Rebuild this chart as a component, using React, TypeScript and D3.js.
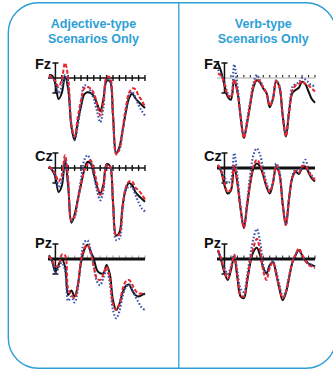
import React from 'react';
import * as d3 from 'd3';

// sample times (ms)
const times = [-100, -50, 0, 50, 100, 150, 200, 250, 300, 350, 400, 450, 500, 550, 600, 650, 700, 750, 800, 850, 900, 950, 1000, 1050, 1100, 1150, 1200, 1250, 1300, 1350, 1400];
const tickTimes = [100, 200, 300, 400, 500, 600, 700, 800, 900, 1000, 1100, 1200, 1300, 1400];
const columnTitles = [['Adjective-type', 'Scenarios Only'], ['Verb-type', 'Scenarios Only']];
const electrodes = ['Fz', 'Cz', 'Pz'];
const scaleBarUV = [-2, 2];

// amplitudes in µV (positive plotted downward)
const adjFzBlack = [-0.4, -0.3, 0.8, 2.8, 2.0, -0.2, 1.5, 6.5, 8.3, 5.8, 3.8, 2.2, 1.9, 2.0, 2.4, 3.4, 4.4, 2.8, 0.4, 0.4, 5.0, 10.0, 9.2, 7.0, 4.6, 2.7, 2.1, 2.7, 3.2, 3.6, 4.0];
const adjFzRed = [-0.4, 0.0, 0.4, 1.2, 0.2, -2.0, 0.0, 6.2, 7.8, 5.2, 3.0, 1.4, 1.2, 1.4, 2.0, 3.4, 5.0, 3.2, -0.1, -0.1, 4.8, 10.2, 9.5, 6.8, 4.0, 2.0, 1.4, 1.5, 2.4, 3.0, 3.8];
const adjFzBlue = [-0.3, 0.0, 0.6, 2.0, 1.2, -0.4, 1.0, 6.2, 8.2, 6.4, 3.4, 1.0, 1.1, 1.8, 2.8, 4.4, 5.9, 4.0, 0.3, 0.3, 5.0, 10.0, 9.6, 7.2, 4.4, 2.3, 1.8, 2.6, 3.6, 4.4, 5.0];

const adjCzBlack = [-0.2, 0.3, 1.2, 3.2, 2.4, -1.0, 2.5, 7.3, 6.2, 4.2, 2.2, 0.3, -0.8, -0.6, 0.8, 2.5, 3.4, 2.2, -0.5, -0.3, 4.5, 9.0, 8.6, 5.0, 2.8, 2.0, 2.3, 3.2, 3.7, 4.1, 4.5];
const adjCzRed = [-0.2, 0.2, 0.8, 1.8, 1.0, -1.7, 1.5, 7.0, 6.4, 4.4, 2.2, 0.4, -0.5, -1.0, 0.2, 2.0, 3.6, 2.5, -0.4, -0.3, 4.5, 9.0, 8.8, 5.2, 2.6, 1.8, 1.8, 2.6, 3.0, 3.5, 4.2];
const adjCzBlue = [-0.2, 0.2, 1.0, 2.6, 1.8, -1.2, 2.0, 7.0, 6.6, 4.2, 1.5, -1.0, -1.7, -1.0, 1.0, 3.0, 4.3, 3.0, -0.2, -0.2, 4.8, 9.6, 9.4, 5.6, 3.0, 2.5, 2.6, 3.6, 4.6, 5.4, 5.8];

const adjPzBlack = [-0.5, 0.3, 1.7, 0.8, 0.0, 1.0, 4.8, 4.2, 5.0, 3.5, 0.5, -1.2, -1.9, -1.0, 0.0, 1.5, 1.9, 1.9, 0.8, 2.0, 5.5, 6.8, 6.0, 4.5, 3.6, 3.4, 4.2, 4.8, 5.0, 4.8, 4.6];
const adjPzRed = [-0.4, 0.2, 1.0, 0.8, -0.6, -0.5, 4.0, 4.8, 5.2, 3.5, 0.3, -1.4, -1.9, -0.8, 1.0, 2.6, 2.8, 2.0, 1.0, 2.5, 6.0, 6.8, 6.0, 4.0, 3.0, 2.8, 3.4, 4.2, 4.6, 4.6, 4.8];
const adjPzBlue = [-0.4, 0.4, 1.8, 1.2, 0.5, 1.5, 5.6, 5.0, 5.8, 4.0, 0.0, -2.2, -2.5, -1.2, 1.0, 3.0, 3.5, 2.5, 1.5, 3.2, 6.8, 7.9, 7.0, 5.0, 3.8, 3.4, 4.0, 5.0, 5.8, 6.5, 6.8];

const verbFzBlack = [-2.0, -0.8, 1.0, 2.5, 2.9, 0.3, 1.8, 5.2, 8.0, 6.0, 3.5, 1.2, 0.3, 0.6, 1.4, 2.0, 3.9, 2.8, 0.4, 1.2, 5.0, 7.8, 4.5, 2.0, 1.6, 1.3, 0.5, 0.8, 1.8, 2.8, 3.3];
const verbFzRed = [-0.6, -0.3, 0.8, 2.3, 2.6, 0.2, 1.8, 5.2, 8.0, 6.0, 3.3, 1.0, 0.2, 0.5, 1.3, 2.0, 3.7, 2.7, 0.4, 1.2, 5.0, 7.8, 4.5, 1.7, 1.0, 0.8, 0.4, 0.8, 1.0, 1.4, 1.8];
const verbFzBlue = [-1.1, -0.4, 0.6, 2.0, 2.4, -1.8, 1.0, 5.0, 7.8, 5.5, 3.0, 0.6, -0.4, 0.3, 1.2, 2.0, 3.6, 2.6, 0.3, 1.0, 4.8, 7.6, 4.2, 1.2, 0.8, 0.6, 0.0, 0.2, 0.6, 1.0, 1.0];

const verbCzBlack = [-0.4, 0.5, 2.3, 3.4, 3.0, -0.2, 2.0, 5.5, 8.0, 5.0, 2.0, 0.0, -0.6, -0.2, 1.0, 2.5, 3.4, 2.0, -0.2, 0.8, 4.8, 7.6, 4.0, 1.3, 0.5, 0.8, 0.0, -0.2, 0.6, 1.4, 1.8];
const verbCzRed = [-0.4, 0.4, 2.0, 3.2, 2.8, -0.3, 2.0, 5.5, 8.0, 5.0, 1.8, -0.3, -1.1, -0.5, 0.8, 2.3, 3.2, 2.0, -0.3, 0.8, 4.8, 7.6, 4.0, 1.2, 0.4, 0.6, -0.2, -0.3, 0.4, 1.2, 1.6];
const verbCzBlue = [-0.3, 0.3, 1.2, 2.0, 1.6, -2.0, 1.0, 5.2, 7.8, 4.6, 0.8, -1.8, -2.6, -1.8, 0.2, 2.0, 3.0, 1.8, -0.6, 0.4, 4.6, 7.6, 4.0, 1.0, 0.2, 0.6, -0.3, -1.1, 0.2, 1.0, 1.4];

const verbPzBlack = [-1.2, 0.2, 1.8, 2.8, 1.5, -0.3, 2.5, 5.0, 5.2, 3.0, 0.5, -1.0, -1.5, -0.5, 1.2, 1.9, 0.8, 0.4, 2.0, 4.0, 5.5, 4.5, 2.5, 0.5, -0.5, -1.2, -0.5, 0.2, 0.6, 0.8, 1.0];
const verbPzRed = [-1.2, 0.0, 1.6, 2.6, 1.3, -0.5, 2.2, 4.8, 5.0, 3.0, 0.2, -1.6, -2.7, -1.2, 1.6, 2.8, 1.2, 0.4, 2.0, 3.8, 5.2, 4.4, 2.4, 0.4, -0.6, -1.4, -0.6, 0.2, 0.8, 1.0, 1.2];
const verbPzBlue = [-1.0, 0.0, 1.2, 2.0, 1.0, -0.6, 1.6, 4.0, 4.4, 2.2, -0.5, -2.8, -4.0, -2.4, 0.8, 2.0, 1.0, 0.2, 1.6, 3.4, 5.0, 4.2, 2.2, 0.4, -0.6, -1.2, -0.4, 0.2, 0.6, 0.8, 1.0];

const panelData = [
  [[adjFzBlack, adjFzRed, adjFzBlue], [adjCzBlack, adjCzRed, adjCzBlue], [adjPzBlack, adjPzRed, adjPzBlue]],
  [[verbFzBlack, verbFzRed, verbFzBlue], [verbCzBlack, verbCzRed, verbCzBlue], [verbPzBlack, verbPzRed, verbPzBlue]],
];

// layout
const W = 333;
const H = 370;
const BLUE = '#2e9fd6';
const colRange = [[49, 145], [218, 315]];
const baseExtent = [[48, 145], [217, 315]];
const rowBase = [78, 168, 259];
const labelX = [35, 204];
const labelY = [69, 160.5, 248];
const titleX = [93.5, 263.3];
// baseline style per [col][row]
const baseStyle = [['thin', 'thin', 'thickGray'], ['gray', 'thick', 'thickDots']];

const seriesStyles = [
  { stroke: '#111', dash: undefined, width: 2 },
  { stroke: '#3a55b0', dash: '1.6 1.9', width: 2.1 },
  { stroke: '#e8262e', dash: '4 2', width: 2 },
];

function Panel({ col, row }: { col: number; row: number }) {
  const base = rowBase[row];
  const x = d3.scaleLinear().domain([-100, 1400]).range(colRange[col]);
  const y = d3.scaleLinear().domain([-2, 2]).range([base - 15, base + 15]);
  const line = d3
    .line<number>()
    .x((_, i) => x(times[i]))
    .y((d) => y(d))
    .curve(d3.curveCatmullRom.alpha(0.5));
  const [black, red, blue] = panelData[col][row];
  const order = [black, blue, red];
  const styleOrder = [seriesStyles[0], seriesStyles[1], seriesStyles[2]];
  const st = baseStyle[col][row];
  const [bx0, bx1] = baseExtent[col];
  const x0 = x(0);
  const sy0 = y(scaleBarUV[0]);
  const sy1 = y(scaleBarUV[1]);

  return (
    <g>
      {/* ticks */}
      {tickTimes.map((t) => {
        const tx = x(t);
        if (st === 'thin')
          return <line key={t} x1={tx} x2={tx} y1={base - 3} y2={base + 3} stroke="#111" strokeWidth={1.4} />;
        if (st === 'thickGray')
          return <line key={t} x1={tx} x2={tx} y1={base - 3.5} y2={base} stroke="#aaa" strokeWidth={1.2} />;
        if (st === 'gray')
          return <line key={t} x1={tx} x2={tx} y1={base - 3} y2={base - 0.5} stroke="#222" strokeWidth={1.1} />;
        if (st === 'thickDots')
          return <line key={t} x1={tx} x2={tx} y1={base - 3.5} y2={base} stroke="#333" strokeWidth={1.1} />;
        return null;
      })}
      {/* baseline */}
      <line
        x1={bx0}
        x2={bx1}
        y1={base}
        y2={base}
        stroke={st === 'gray' ? '#aaa' : '#111'}
        strokeWidth={st === 'thin' ? 1.5 : st === 'gray' ? 1 : 3}
      />
      {/* scale bar */}
      <g stroke="#111" strokeWidth={1.5}>
        <line x1={x0} x2={x0} y1={sy0} y2={sy1} />
        <line x1={x0 - 3} x2={x0 + 3} y1={sy0} y2={sy0} />
        <line x1={x0 - 3} x2={x0 + 3} y1={sy1} y2={sy1} />
      </g>
      {/* waves */}
      {order.map((d, i) => (
        <path
          key={i}
          d={line(d) || ''}
          fill="none"
          stroke={styleOrder[i].stroke}
          strokeWidth={styleOrder[i].width}
          strokeDasharray={styleOrder[i].dash}
          strokeLinejoin="round"
        />
      ))}
      <text
        x={labelX[col]}
        y={labelY[row]}
        fontFamily="Liberation Sans, Arial, sans-serif"
        fontWeight="bold"
        fontSize={14.5}
        fill="#111"
      >
        {electrodes[row]}
      </text>
    </g>
  );
}

export default function App() {
  return (
    <svg
      width={W}
      height={H}
      viewBox={`0 0 ${W} ${H}`}
      style={{ position: 'absolute', left: 0, top: 0, background: '#fff' }}
    >
      <rect x={8.3} y={2.7} width={327.7} height={365.6} rx={30} ry={30} fill="#fff" stroke={BLUE} strokeWidth={1.4} />
      <line x1={178.8} x2={178.8} y1={2.7} y2={368.3} stroke={BLUE} strokeWidth={1.3} />
      {columnTitles.map((lines, c) => (
        <text
          key={c}
          textAnchor="middle"
          fontFamily="Liberation Sans, Arial, sans-serif"
          fontWeight="bold"
          fontSize={12.5}
          fill={BLUE}
        >
          <tspan x={titleX[c]} y={28.4}>{lines[0]}</tspan>
          <tspan x={titleX[c]} y={42.7}>{lines[1]}</tspan>
        </text>
      ))}
      {[0, 1].map((c) => [0, 1, 2].map((r) => <Panel key={`${c}-${r}`} col={c} row={r} />))}
    </svg>
  );
}
